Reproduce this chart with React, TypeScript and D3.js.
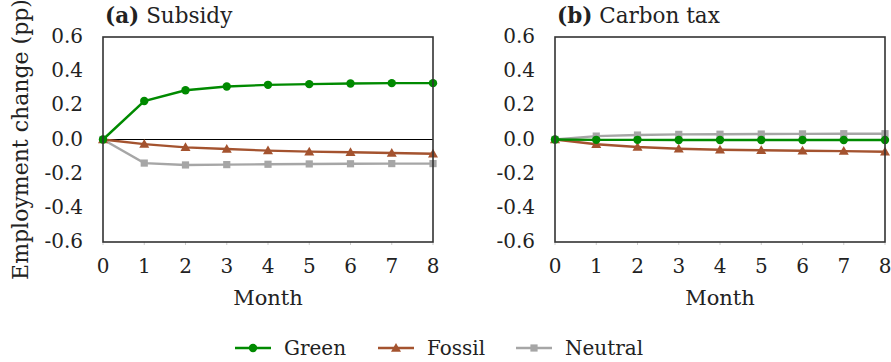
import * as d3 from "d3";
import React from "react";

// months on the x axis
const months = [0, 1, 2, 3, 4, 5, 6, 7, 8];
const yTicks = [0.6, 0.4, 0.2, 0.0, -0.2, -0.4, -0.6];

// (a) subsidy
const subsidyGreen = [0, 0.225, 0.288, 0.31, 0.32, 0.324, 0.328, 0.33, 0.33];
const subsidyFossil = [0, -0.027, -0.046, -0.056, -0.065, -0.071, -0.075, -0.079, -0.083];
const subsidyNeutral = [0, -0.138, -0.149, -0.147, -0.145, -0.143, -0.142, -0.141, -0.141];

// (b) carbon tax
const taxGreen = [0, -0.002, -0.002, -0.003, -0.003, -0.003, -0.003, -0.003, -0.003];
const taxFossil = [0, -0.028, -0.044, -0.054, -0.06, -0.063, -0.066, -0.068, -0.072];
const taxNeutral = [0, 0.02, 0.026, 0.03, 0.031, 0.032, 0.033, 0.034, 0.034];

const seriesNames = ["Green", "Fossil", "Neutral"];
const colors: Record<string, string> = { Green: "#008a00", Fossil: "#a4532f", Neutral: "#a6a6a6" };

const family = '"DejaVu Serif", "Liberation Serif", serif';
const textStyle: React.CSSProperties = { fontFamily: family, fontSize: 20 };
const labelStyle: React.CSSProperties = { fontFamily: family, fontSize: 21 };
const W = 891;
const H = 362;

function Marker({ kind, x, y, color }: { kind: string; x: number; y: number; color: string }) {
  if (kind === "Green") return <circle cx={x} cy={y} r={4.2} fill={color} />;
  if (kind === "Fossil") {
    const s = 5;
    return <path d={`M${x},${y - s}L${x + s},${y + s * 0.75}L${x - s},${y + s * 0.75}Z`} fill={color} />;
  }
  return <rect x={x - 3.6} y={y - 3.6} width={7.2} height={7.2} fill={color} />;
}

function Panel({ left, label, title, data, showYLabel }: any) {
  const x = d3.scaleLinear().domain([0, 8]).range([left, left + 330]);
  const y = d3.scaleLinear().domain([-0.6, 0.6]).range([242, 37]);
  const line = d3.line<number>().x((_, i) => x(months[i])).y((d) => y(d));
  const order = ["Neutral", "Fossil", "Green"];
  return (
    <g>
      <text x={left + 2} y={23} style={{ ...labelStyle, fontSize: 21.5 }} fill="#222">
        <tspan fontWeight="bold">{label}</tspan> {title}
      </text>
      {showYLabel && (
        <text
          transform={`translate(28,${(y(0.6) + y(-0.6)) / 2}) rotate(-90)`}
          textAnchor="middle"
          style={{ ...labelStyle, fontSize: 22 }}
          fill="#222"
        >
          Employment change (pp)
        </text>
      )}
      {yTicks.map((t) => (
        <text key={t} x={left - 20} y={y(t) + 6} textAnchor="end" style={textStyle} fill="#222">
          {t.toFixed(1)}
        </text>
      ))}
      {months.map((m) => (
        <g key={m}>
          <line x1={x(m)} x2={x(m)} y1={y(-0.6)} y2={y(-0.6) + 3} stroke="#ccc" strokeWidth={1} />
          <text x={x(m)} y={273} textAnchor="middle" style={textStyle} fill="#222">
            {m}
          </text>
        </g>
      ))}
      <text x={x(4)} y={305} textAnchor="middle" style={labelStyle} fill="#222">
        Month
      </text>
      <line x1={x(0)} x2={x(8)} y1={y(0)} y2={y(0)} stroke="#000" strokeWidth={1.2} />
      {order.map((name) => {
        const vals: number[] = data[name];
        return (
          <g key={name}>
            <path d={line(vals) || ""} fill="none" stroke={colors[name]} strokeWidth={2.4} />
            {vals.map((v, i) => (
              <Marker key={i} kind={name} x={x(months[i])} y={y(v)} color={colors[name]} />
            ))}
          </g>
        );
      })}
      <rect
        x={x(0)}
        y={y(0.6)}
        width={x(8) - x(0)}
        height={y(-0.6) - y(0.6)}
        fill="none"
        stroke="#333"
        strokeWidth={1.6}
      />
    </g>
  );
}

export default function App() {
  const legendX = [235, 378, 516];
  return (
    <svg width={W} height={H} style={{ position: "absolute", left: 0, top: 0, background: "#fff" }}>
      <Panel
        left={103}
        label="(a)"
        title="Subsidy"
        showYLabel
        data={{ Green: subsidyGreen, Fossil: subsidyFossil, Neutral: subsidyNeutral }}
      />
      <Panel
        left={555}
        label="(b)"
        title="Carbon tax"
        data={{ Green: taxGreen, Fossil: taxFossil, Neutral: taxNeutral }}
      />
      {seriesNames.map((name, i) => (
        <g key={name}>
          <line x1={legendX[i]} x2={legendX[i] + 36} y1={348} y2={348} stroke={colors[name]} strokeWidth={2.4} />
          <Marker kind={name} x={legendX[i] + 18} y={348} color={colors[name]} />
          <text x={legendX[i] + 49} y={355} style={textStyle} fill="#222">
            {name}
          </text>
        </g>
      ))}
    </svg>
  );
}
